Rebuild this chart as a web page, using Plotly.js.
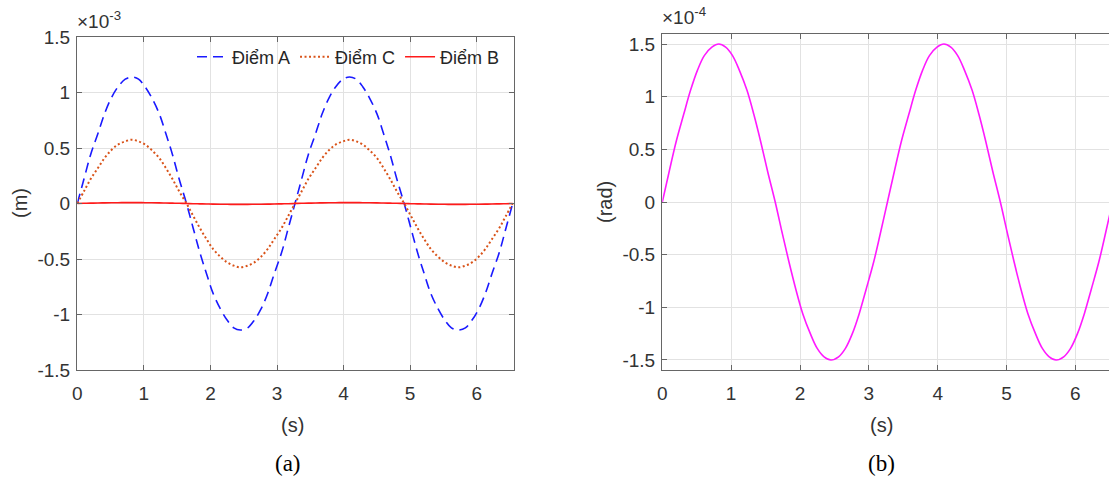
<!DOCTYPE html>
<html>
<head>
<meta charset="utf-8">
<script src="https://cdn.plot.ly/plotly-3.0.1.min.js"></script>
<style>
html,body{margin:0;padding:0;background:#fff;}
#chart{width:1109px;height:477px;}
</style>
</head>
<body>
<div id="chart"></div>
<script>
// time (s)
const time = [0, 0.1, 0.2, 0.31, 0.41, 0.51, 0.61, 0.72, 0.82, 0.92, 1.02, 1.12, 1.23, 1.33, 1.43, 1.53,
              1.64, 1.74, 1.84, 1.94, 2.04, 2.15, 2.25, 2.35, 2.45, 2.56, 2.66, 2.76, 2.86, 2.96, 3.07, 3.17,
              3.27, 3.37, 3.47, 3.58, 3.68, 3.78, 3.88, 3.99, 4.09, 4.19, 4.29, 4.39, 4.5, 4.6, 4.7, 4.8,
              4.91, 5.01, 5.11, 5.21, 5.31, 5.42, 5.52, 5.62, 5.72, 5.83, 5.93, 6.03, 6.13, 6.23, 6.34, 6.44, 6.54];
// displacement (x 10^-3 m)
const diemA = [0, 0.22, 0.44, 0.63, 0.81, 0.95, 1.05, 1.12, 1.14, 1.12, 1.05, 0.95, 0.81, 0.63, 0.44, 0.22,
               0, -0.22, -0.44, -0.63, -0.81, -0.95, -1.05, -1.12, -1.14, -1.12, -1.05, -0.95, -0.81, -0.63, -0.44, -0.22,
               0, 0.22, 0.44, 0.63, 0.81, 0.95, 1.05, 1.12, 1.14, 1.12, 1.05, 0.95, 0.81, 0.63, 0.44, 0.22,
               0, -0.22, -0.44, -0.63, -0.81, -0.95, -1.05, -1.12, -1.14, -1.12, -1.05, -0.95, -0.81, -0.63, -0.44, -0.22, 0];
const diemC = [0, 0.11, 0.22, 0.32, 0.41, 0.48, 0.53, 0.56, 0.575, 0.56, 0.53, 0.48, 0.41, 0.32, 0.22, 0.11,
               0, -0.11, -0.22, -0.32, -0.41, -0.48, -0.53, -0.56, -0.575, -0.56, -0.53, -0.48, -0.41, -0.32, -0.22, -0.11,
               0, 0.11, 0.22, 0.32, 0.41, 0.48, 0.53, 0.56, 0.575, 0.56, 0.53, 0.48, 0.41, 0.32, 0.22, 0.11,
               0, -0.11, -0.22, -0.32, -0.41, -0.48, -0.53, -0.56, -0.575, -0.56, -0.53, -0.48, -0.41, -0.32, -0.22, -0.11, 0];
const diemB = [0, 0.002, 0.003, 0.004, 0.006, 0.007, 0.007, 0.008, 0.008, 0.008, 0.007, 0.007, 0.006, 0.004, 0.003, 0.002,
               0, -0.002, -0.003, -0.004, -0.006, -0.007, -0.007, -0.008, -0.008, -0.008, -0.007, -0.007, -0.006, -0.004, -0.003, -0.002,
               0, 0.002, 0.003, 0.004, 0.006, 0.007, 0.007, 0.008, 0.008, 0.008, 0.007, 0.007, 0.006, 0.004, 0.003, 0.002,
               0, -0.002, -0.003, -0.004, -0.006, -0.007, -0.007, -0.008, -0.008, -0.008, -0.007, -0.007, -0.006, -0.004, -0.003, -0.002, 0];
// rotation (x 10^-4 rad)
const rotation = [0, 0.29, 0.57, 0.83, 1.06, 1.25, 1.39, 1.47, 1.5, 1.47, 1.39, 1.25, 1.06, 0.83, 0.57, 0.29,
                  0, -0.29, -0.57, -0.83, -1.06, -1.25, -1.39, -1.47, -1.5, -1.47, -1.39, -1.25, -1.06, -0.83, -0.57, -0.29,
                  0, 0.29, 0.57, 0.83, 1.06, 1.25, 1.39, 1.47, 1.5, 1.47, 1.39, 1.25, 1.06, 0.83, 0.57, 0.29,
                  0, -0.29, -0.57, -0.83, -1.06, -1.25, -1.39, -1.47, -1.5, -1.47, -1.39, -1.25, -1.06, -0.83, -0.57, -0.29, 0];

const xTicks = [0, 1, 2, 3, 4, 5, 6];
const xTickText = ['0', '1', '2', '3', '4', '5', '6'];
const yTicks = [-1.5, -1, -0.5, 0, 0.5, 1, 1.5];
const yTickText = ['-1.5', '-1', '-0.5', '0', '0.5', '1', '1.5'];

const W = 1109, H = 477;
const px = v => v / W;
const py = v => (H - v) / H;

const SANS = 'Liberation Sans, Arial, sans-serif';
const axisCol = '#666666';
const gridCol = '#e2e2e2';
const textCol = '#333333';
const tickFont = {family: SANS, size: 19, color: textCol};

const traces = [
  {x: time, y: diemA, name: 'Điểm A', type: 'scatter', mode: 'lines',
   line: {color: '#1a1aff', width: 1.6, dash: '10px,6px', shape: 'spline'}, xaxis: 'x', yaxis: 'y'},
  {x: time, y: diemC, name: 'Điểm C', type: 'scatter', mode: 'lines',
   line: {color: '#D95319', width: 2, dash: '2px,2.5px', shape: 'spline'}, xaxis: 'x', yaxis: 'y'},
  {x: time, y: diemB, name: 'Điểm B', type: 'scatter', mode: 'lines',
   line: {color: '#ff1a1a', width: 1.6, shape: 'spline'}, xaxis: 'x', yaxis: 'y'},
  {x: time, y: rotation, name: 'rot', type: 'scatter', mode: 'lines', showlegend: false,
   line: {color: '#ff1aff', width: 1.6, shape: 'spline'}, xaxis: 'x2', yaxis: 'y2'}
];

const baseX = {
  tickvals: xTicks, ticktext: xTickText, showgrid: true, gridcolor: gridCol, gridwidth: 1,
  showline: true, linecolor: axisCol, linewidth: 1.3, ticks: 'inside', ticklen: 5, tickcolor: axisCol,
  zeroline: false, tickfont: tickFont, fixedrange: true, ticklabelstandoff: 6
};
const baseY = {
  tickvals: yTicks, ticktext: yTickText, showgrid: true, gridcolor: gridCol, gridwidth: 1,
  showline: true, linecolor: axisCol, linewidth: 1.3, ticks: 'inside', ticklen: 5, tickcolor: axisCol,
  zeroline: false, tickfont: tickFont, fixedrange: true, ticklabelstandoff: 2
};

const layout = {
  width: W, height: H,
  margin: {l: 0, r: 0, t: 0, b: 0},
  paper_bgcolor: '#ffffff', plot_bgcolor: '#ffffff',
  showlegend: true,
  legend: {orientation: 'h', x: px(192), xanchor: 'left', y: py(57), yanchor: 'middle',
           bgcolor: 'rgba(255,255,255,0)', borderwidth: 0,
           font: {family: SANS, size: 18, color: '#262626'}},
  xaxis: Object.assign({}, baseX, {domain: [px(77.3), px(514)], range: [0, 6.56], anchor: 'y', mirror: 'ticks'}),
  yaxis: Object.assign({}, baseY, {domain: [py(370), py(37)], range: [-1.5, 1.5], anchor: 'x', mirror: 'ticks'}),
  xaxis2: Object.assign({}, baseX, {domain: [px(662.3), 1], range: [0, 6.488], anchor: 'y2', mirror: 'ticks'}),
  yaxis2: Object.assign({}, baseY, {domain: [py(370), py(34)], range: [-1.595, 1.595], anchor: 'x2', mirror: false}),
  annotations: [
    {text: '×10<sup>-3</sup>', xref: 'paper', yref: 'paper', x: px(75), y: py(34), xanchor: 'left', yanchor: 'bottom',
     showarrow: false, font: {family: SANS, size: 19, color: textCol}},
    {text: '×10<sup>-4</sup>', xref: 'paper', yref: 'paper', x: px(660), y: py(30), xanchor: 'left', yanchor: 'bottom',
     showarrow: false, font: {family: SANS, size: 19, color: textCol}},
    {text: '(s)', xref: 'paper', yref: 'paper', x: px(292), y: py(425), xanchor: 'center', yanchor: 'middle',
     showarrow: false, font: {family: SANS, size: 20, color: textCol}},
    {text: '(s)', xref: 'paper', yref: 'paper', x: px(881), y: py(425), xanchor: 'center', yanchor: 'middle',
     showarrow: false, font: {family: SANS, size: 20, color: textCol}},
    {text: '(m)', xref: 'paper', yref: 'paper', x: px(20), y: py(203), xanchor: 'center', yanchor: 'middle', textangle: -90,
     showarrow: false, font: {family: SANS, size: 20, color: textCol}},
    {text: '(rad)', xref: 'paper', yref: 'paper', x: px(605), y: py(202), xanchor: 'center', yanchor: 'middle', textangle: -90,
     showarrow: false, font: {family: SANS, size: 20, color: textCol}},
    {text: '(a)', xref: 'paper', yref: 'paper', x: px(288), y: py(463), xanchor: 'center', yanchor: 'middle',
     showarrow: false, font: {family: 'Liberation Serif, Times New Roman, serif', size: 23, color: '#000000'}},
    {text: '(b)', xref: 'paper', yref: 'paper', x: px(881), y: py(463), xanchor: 'center', yanchor: 'middle',
     showarrow: false, font: {family: 'Liberation Serif, Times New Roman, serif', size: 23, color: '#000000'}}
  ]
};

Plotly.newPlot('chart', traces, layout, {displayModeBar: false, staticPlot: true});
</script>
</body>
</html>
